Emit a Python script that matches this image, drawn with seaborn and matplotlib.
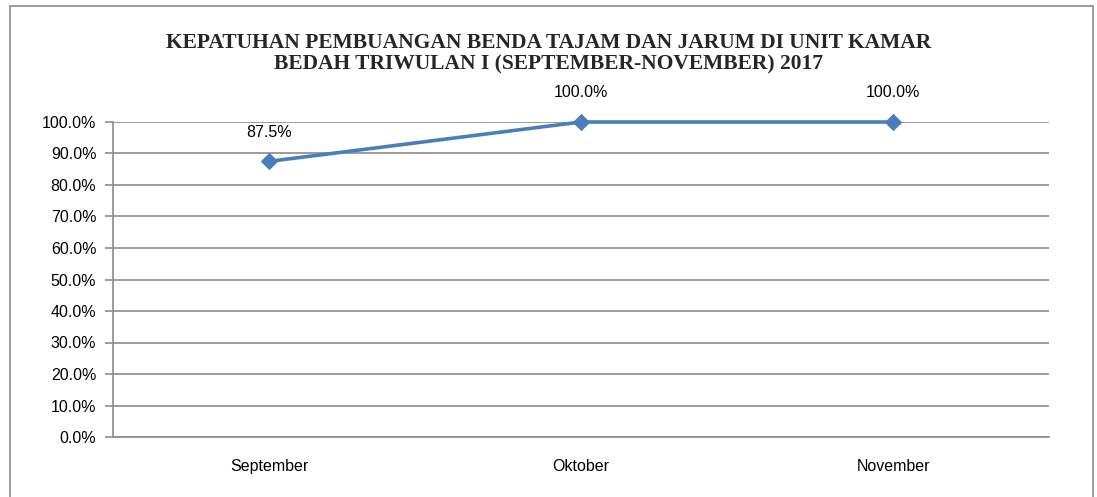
import matplotlib
matplotlib.use("Agg")
import matplotlib.pyplot as plt
import matplotlib.patches as mpatches
from matplotlib.ticker import PercentFormatter
import seaborn as sns
import pandas as pd

months = ["September", "Oktober", "November"]
values = [87.5, 100.0, 100.0]
yticks = [0, 10, 20, 30, 40, 50, 60, 70, 80, 90, 100]
title = "KEPATUHAN PEMBUANGAN BENDA TAJAM DAN JARUM DI UNIT KAMAR\nBEDAH TRIWULAN I (SEPTEMBER-NOVEMBER) 2017"

sns.set_theme(style="white")
plt.rcParams['font.family'] = ['Liberation Sans', 'DejaVu Sans']

df = pd.DataFrame({"bulan": months, "nilai": values})

fig = plt.figure(figsize=(10.97, 4.97), dpi=100)
ax = fig.add_axes([113/1097, 1-437/497, (1049-113)/1097, (437-122)/497])

line_color = "#4A7EBB"
sns.lineplot(data=df, x="bulan", y="nilai", ax=ax, color=line_color, linewidth=2.6,
             marker="D", markersize=8, markeredgecolor=line_color, sort=False)
for ln in ax.lines:
    ln.set_clip_on(False)

ax.set_xlim(-0.5, len(months) - 0.5)
ax.set_ylim(0, 100)
ax.set_yticks(yticks)
ax.yaxis.set_major_formatter(PercentFormatter(decimals=1))
ax.grid(axis="y", color="#8C8C8C", linewidth=1.2)
ax.set_axisbelow(True)
ax.set_xlabel("")
ax.set_ylabel("")
for s in ["top", "right"]:
    ax.spines[s].set_visible(False)
for s in ["left", "bottom"]:
    ax.spines[s].set_color("#8C8C8C")
    ax.spines[s].set_linewidth(1.2)
ax.tick_params(axis="y", which="major", left=True, length=6, width=1.2, color="#8C8C8C",
               labelsize=11.5, pad=6, labelcolor="black")
ax.tick_params(axis="x", bottom=False, labelsize=11.5, pad=10, labelcolor="black")

for i, v in enumerate(values):
    ax.annotate(f"{v:.1f}%", (i, v), xytext=(0, 21), textcoords="offset points",
                ha="center", va="center", fontsize=11.5, color="black")

fig.text(0.5, 1-54/497, title, ha="center", va="center", fontsize=15.5,
         fontweight="bold", family=["Liberation Serif", "DejaVu Serif"], linespacing=1.08)

rect = mpatches.Rectangle((10/1097, -0.1), (1093-10)/1097, 1 - 6/497 + 0.1,
                          transform=fig.transFigure, fill=False, edgecolor="#8C8C8C",
                          linewidth=1.2)
fig.patches.append(rect)

fig.savefig("out.png", dpi=100, facecolor="white")
